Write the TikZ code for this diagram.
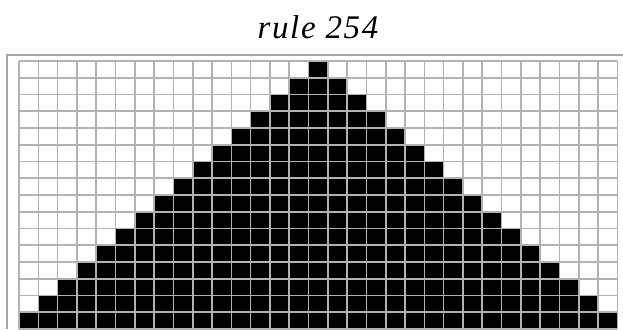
\documentclass[tikz,border=0pt]{standalone}
\usepackage{fontspec}
\newfontfamily\titlefont[LetterSpace=5]{Liberation Serif}
\usetikzlibrary{positioning}

\begin{document}
\begin{tikzpicture}[x=1pt, y=-1pt,
  cell/.style={fill=black},
  gridline/.style={draw=gray!60, line width=1.6pt},
  frame/.style={draw=gray!70, line width=2.2pt}]

\useasboundingbox (0,0) rectangle (623,329);

\node[font=\titlefont\itshape\fontsize{33}{33}\selectfont] (title) at (318,27) {rule 254};

% black cells of the automaton
\foreach \r in {0,...,15} {
  \pgfmathtruncatemacro{\lo}{15-\r}
  \pgfmathtruncatemacro{\hi}{15+\r}
  \foreach \c in {\lo,...,\hi}
    \fill[cell] (19+\c*19.3, 61+\r*16.75) rectangle (19+\c*19.3+19.3, 61+\r*16.75+16.75);
}

% grid
\foreach \c in {0,...,31}
  \draw[gridline] (19+\c*19.3, 61) -- (19+\c*19.3, 329);
\foreach \r in {0,...,16}
  \draw[gridline] (19, 61+\r*16.75) -- (617.3, 61+\r*16.75);

% frame
\draw[frame] (623,55) -- (7,55) -- (7,329);

\end{tikzpicture}
\end{document}
